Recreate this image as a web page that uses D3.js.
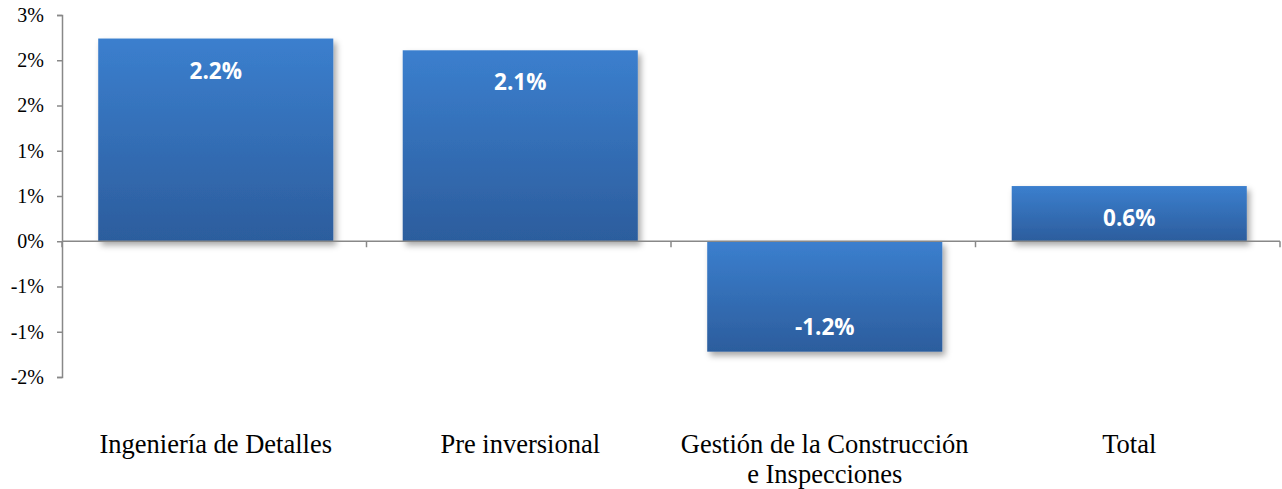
<!DOCTYPE html>
<html>
<head>
<meta charset="utf-8">
<script src="https://cdn.jsdelivr.net/npm/d3@7"></script>
<style>
  html, body { margin: 0; padding: 0; background: #fff; }
  svg { display: block; }
</style>
</head>
<body>
<svg id="chart" width="1282" height="489"></svg>
<script>
const categories = [["Ingeniería de Detalles"], ["Pre inversional"], ["Gestión de la Construcción", "e Inspecciones"], ["Total"]];
const categoryKeys = ["Ingeniería de Detalles", "Pre inversional", "Gestión de la Construcción e Inspecciones", "Total"];
const values = [0.0224, 0.0211, -0.0122, 0.0061];
const tickValues = [-0.015, -0.01, -0.005, 0, 0.005, 0.01, 0.015, 0.02, 0.025];
const tickLabels = ["-2%", "-1%", "-1%", "0%", "1%", "1%", "2%", "2%", "3%"];

const svg = d3.select("#chart");
const mLeft = 62, mRight = 1280, mTop = 15, mBottom = 377;

const y = d3.scaleLinear().domain([-0.015, 0.025]).range([mBottom, mTop]);
const x = d3.scaleBand().domain(categoryKeys).range([mLeft + 1.5, mRight + 1.5]).paddingInner(0.228).paddingOuter(0.114);

const defs = svg.append("defs");
const grad = defs.append("linearGradient").attr("id", "barGrad").attr("x1", 0).attr("y1", 0).attr("x2", 0).attr("y2", 1);
grad.append("stop").attr("offset", "0%").attr("stop-color", "#3b7fce");
grad.append("stop").attr("offset", "100%").attr("stop-color", "#2c5d9d");
const filt = defs.append("filter").attr("id", "shadow").attr("x", "-10%").attr("y", "-10%").attr("width", "130%").attr("height", "130%");
filt.append("feDropShadow").attr("dx", 3).attr("dy", 4).attr("stdDeviation", 3).attr("flood-color", "#000").attr("flood-opacity", 0.35);

// Y axis
const yAxis = d3.axisLeft(y).tickValues(tickValues).tickFormat((d, i) => tickLabels[i]).tickSize(5).tickPadding(13);
const gy = svg.append("g").attr("transform", `translate(${mLeft},0)`).call(yAxis);
gy.select(".domain").attr("stroke", "#888").attr("stroke-width", 1.5);
gy.selectAll(".tick line").attr("stroke", "#888").attr("stroke-width", 1.5);
gy.selectAll(".tick text").attr("font-family", "'Liberation Serif', 'Times New Roman', serif").attr("font-size", 20).attr("fill", "#000");

// Bars
const bars = svg.append("g");
bars.selectAll("rect").data(values).join("rect")
  .attr("x", (d, i) => x(categoryKeys[i]))
  .attr("width", x.bandwidth())
  .attr("y", d => y(Math.max(0, d)))
  .attr("height", d => Math.abs(y(d) - y(0)))
  .attr("fill", "url(#barGrad)")
  .attr("filter", "url(#shadow)");

// X axis line with category boundary ticks
const gx = svg.append("g");
gx.append("line").attr("x1", mLeft).attr("x2", mRight).attr("y1", y(0)).attr("y2", y(0)).attr("stroke", "#888").attr("stroke-width", 1.5);
const step = x.step();
d3.range(categoryKeys.length + 1).forEach(i => {
  const xp = mLeft + i * step;
  gx.append("line").attr("x1", xp).attr("x2", xp).attr("y1", y(0)).attr("y2", y(0) + 6).attr("stroke", "#888").attr("stroke-width", 1.5);
});

// Value labels
svg.append("g").selectAll("text").data(values).join("text")
  .attr("x", (d, i) => x(categoryKeys[i]) + x.bandwidth() / 2)
  .attr("y", d => d >= 0 ? y(d) + 40 : y(d) - 17)
  .attr("text-anchor", "middle")
  .attr("font-family", "'Open Sans', sans-serif")
  .attr("font-weight", "bold")
  .attr("font-size", 22.5)
  .attr("fill", "#fff")
  .text(d => d3.format(".1%")(d).replace("−", "-"));

// Category labels
const cl = svg.append("g");
categories.forEach((lines, i) => {
  const t = cl.append("text")
    .attr("x", x(categoryKeys[i]) + x.bandwidth() / 2)
    .attr("y", 453)
    .attr("text-anchor", "middle")
    .attr("font-family", "'Liberation Serif', 'Times New Roman', serif")
    .attr("font-size", 26.5)
    .attr("fill", "#000");
  lines.forEach((ln, j) => {
    t.append("tspan").attr("x", x(categoryKeys[i]) + x.bandwidth() / 2).attr("dy", j === 0 ? 0 : 30).text(ln);
  });
});
</script>
</body>
</html>
